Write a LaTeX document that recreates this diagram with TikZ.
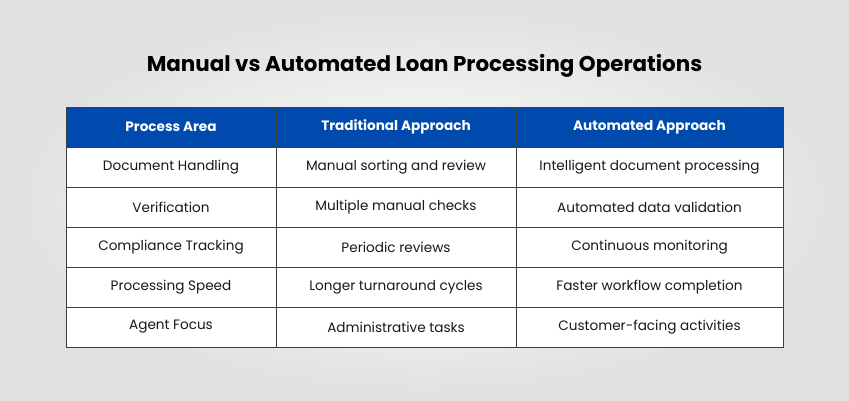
\documentclass[tikz,border=0pt]{standalone}
\usepackage{fontspec}
\setmainfont{Poppins}
\begin{document}
\begin{tikzpicture}[x=1pt,y=-1pt,
 cell/.style={draw=black!75,line width=0.8pt,minimum height=40pt,inner sep=0pt,font=\fontsize{13.6}{15}\selectfont,text=black!90},
 bcell/.style={cell,fill=white},
 hcell/.style={cell,fill=hblue,text=white,font=\fontsize{13.6}{15}\selectfont\bfseries}]
\definecolor{hblue}{HTML}{004AAD}
\useasboundingbox (0,0) rectangle (849,400);
\shade[inner color=white,outer color=black!12] (0,0) rectangle (849,400);
\node[font=\fontsize{21.4}{24}\selectfont\bfseries] (title) at (424.5,66) {Manual vs Automated Loan Processing Operations};
\foreach \r/\a/\b [count=\i from 0] in {
 {Process Area}/{Traditional Approach}/{Automated Approach},
 {Document Handling}/{Manual sorting and review}/{Intelligent document processing},
 {Verification}/{Multiple manual checks}/{Automated data validation},
 {Compliance Tracking}/{Periodic reviews}/{Continuous monitoring},
 {Processing Speed}/{Longer turnaround cycles}/{Faster workflow completion},
 {Agent Focus}/{Administrative tasks}/{Customer-facing activities}}{
 \ifnum\i=0 \def\st{hcell}\else\def\st{bcell}\fi
 \node[\st,minimum width=210pt] (c\i a) at (171,127+40*\i) {\r};
 \node[\st,minimum width=240pt] (c\i b) at (396,127+40*\i) {\a};
 \node[\st,minimum width=267pt] (c\i c) at (649.5,127+40*\i) {\b};
}
\end{tikzpicture}
\end{document}
